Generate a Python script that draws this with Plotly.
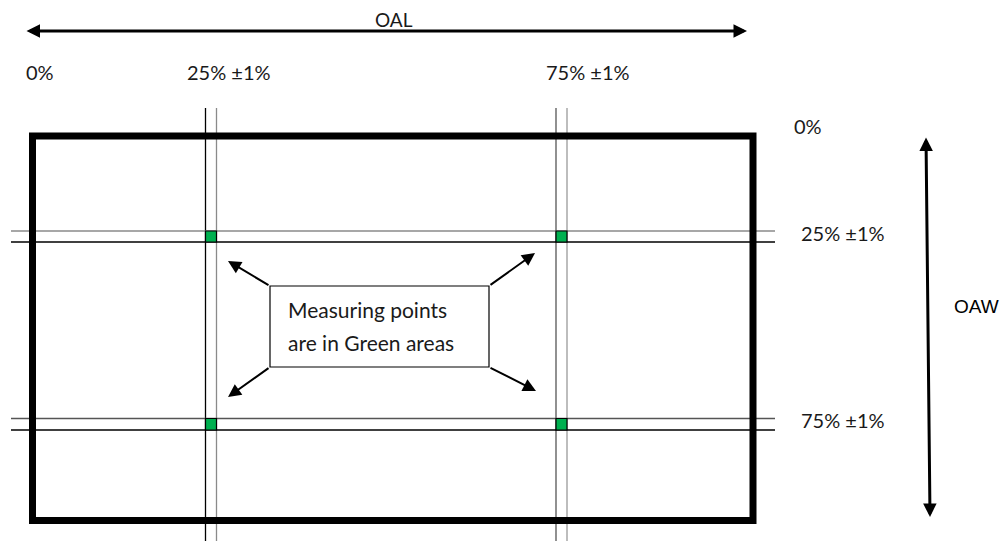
import plotly.graph_objects as go

W, H = 1008, 541
PAGE_MARGIN = 8  # browser body margin around the plot div

# ---- diagram content (positions in drawing units = pixels of the sheet) ----
length_title = "OAL"
width_title = "OAW"

length_labels = ["0%", "25% ±1%", "75% ±1%"]
length_label_x = [40, 229, 588]
length_label_y = [72, 72, 72]

width_labels = ["0%", "25% ±1%", "75% ±1%"]
width_label_x = [808, 842.5, 842.5]
width_label_y = [125.5, 233, 420]

part_x = [32.5, 753]          # outline of the part (left, right)
part_y = [136, 520.5]         # outline of the part (top, bottom)

guide_x_pairs = [[205.5, 216.5], [556, 567]]     # 25% / 75% of OAL
guide_y_pairs = [[231, 242], [418.5, 430]]       # 25% / 75% of OAW
guide_x_colors = [["#000000", "#8a8a8a"], ["#555555", "#9a9a9a"]]
guide_y_colors = [["#8a8a8a", "#000000"], ["#555555", "#000000"]]
guide_v_span = [108, 541]
guide_h_span = [11, 775]

oal_arrow_x = [25, 747]
oal_arrow_y = [31, 31]
oaw_arrow_x = [926, 930]
oaw_arrow_y = [136, 517]

callout_box_x = [270, 489]
callout_box_y = [286, 367]
callout_lines = ["Measuring points", "are in Green areas"]
callout_line_y = [309, 342]
callout_text_x = 286
callout_tips = [(228, 261), (535, 253), (228, 397), (536, 391)]

GREEN = "#00B050"
TEXT = "#1a1a1a"
FONT = "Lato"

fig = go.Figure()
shapes = []
annotations = []

# guide double lines
for (xa, xb), cols in zip(guide_x_pairs, guide_x_colors):
    for xv, c in zip((xa, xb), cols):
        shapes.append(dict(type="line", x0=xv, x1=xv, y0=guide_v_span[0], y1=guide_v_span[1],
                           line=dict(color=c, width=1.3)))
for (ya, yb), cols in zip(guide_y_pairs, guide_y_colors):
    for yv, c in zip((ya, yb), cols):
        shapes.append(dict(type="line", x0=guide_h_span[0], x1=guide_h_span[1], y0=yv, y1=yv,
                           line=dict(color=c, width=1.3)))

# green measuring areas
for xa, xb in guide_x_pairs:
    for ya, yb in guide_y_pairs:
        shapes.append(dict(type="rect", x0=xa, x1=xb, y0=ya, y1=yb,
                           fillcolor=GREEN, line=dict(color="#000000", width=1.2)))

# part outline
shapes.append(dict(type="rect", x0=part_x[0], x1=part_x[1], y0=part_y[0], y1=part_y[1],
                   line=dict(color="#000000", width=7), fillcolor="rgba(0,0,0,0)"))

# callout box
shapes.append(dict(type="rect", x0=callout_box_x[0], x1=callout_box_x[1],
                   y0=callout_box_y[0], y1=callout_box_y[1],
                   line=dict(color="#000000", width=1.2), fillcolor="white"))

# callout arrows from box corners
corners = [(callout_box_x[0], callout_box_y[0]), (callout_box_x[1], callout_box_y[0]),
           (callout_box_x[0], callout_box_y[1]), (callout_box_x[1], callout_box_y[1])]
for (tx, ty), (cx, cy) in zip(callout_tips, corners):
    annotations.append(dict(x=tx, y=ty, ax=cx, ay=cy, xref="x", yref="y", axref="x", ayref="y",
                            text="", showarrow=True, arrowhead=2, arrowsize=1.3, arrowwidth=2,
                            arrowcolor="#000000"))

# OAL and OAW double arrows
annotations.append(dict(x=oal_arrow_x[1], y=oal_arrow_y[1], ax=oal_arrow_x[0], ay=oal_arrow_y[0],
                        xref="x", yref="y", axref="x", ayref="y", text="", showarrow=True,
                        arrowhead=2, startarrowhead=2, arrowside="end+start",
                        arrowsize=0.9, startarrowsize=0.9, arrowwidth=3, arrowcolor="#000000"))
annotations.append(dict(x=oaw_arrow_x[1], y=oaw_arrow_y[1], ax=oaw_arrow_x[0], ay=oaw_arrow_y[0],
                        xref="x", yref="y", axref="x", ayref="y", text="", showarrow=True,
                        arrowhead=2, startarrowhead=2, arrowside="end+start",
                        arrowsize=0.9, startarrowsize=0.9, arrowwidth=3, arrowcolor="#000000"))

# titles
annotations.append(dict(x=393.5, y=19, xref="x", yref="y", text=length_title, showarrow=False,
                        font=dict(family=FONT, size=19, color=TEXT)))
annotations.append(dict(x=952, y=306, xref="x", yref="y", text=width_title, showarrow=False,
                        xanchor="left", font=dict(family="Liberation Sans", size=19, color="#000000")))

# percentage labels
for t, x, y in zip(length_labels, length_label_x, length_label_y):
    annotations.append(dict(x=x, y=y, xref="x", yref="y", text=t, showarrow=False,
                            font=dict(family=FONT, size=20, color=TEXT)))
for t, x, y in zip(width_labels, width_label_x, width_label_y):
    annotations.append(dict(x=x, y=y, xref="x", yref="y", text=t, showarrow=False,
                            font=dict(family=FONT, size=20, color=TEXT)))

# callout text
for t, y in zip(callout_lines, callout_line_y):
    annotations.append(dict(x=callout_text_x, y=y, xref="x", yref="y", text=t, showarrow=False,
                            xanchor="left", font=dict(family=FONT, size=21, color=TEXT)))

fig.update_layout(
    width=W - PAGE_MARGIN, height=H - PAGE_MARGIN,
    margin=dict(l=0, r=0, t=0, b=0),
    paper_bgcolor="white", plot_bgcolor="white",
    xaxis=dict(range=[PAGE_MARGIN, W], visible=False, fixedrange=True),
    yaxis=dict(range=[H, PAGE_MARGIN], visible=False, fixedrange=True),
    shapes=shapes, annotations=annotations,
    showlegend=False,
)
fig.write_html("out.html", config={"displayModeBar": False})
